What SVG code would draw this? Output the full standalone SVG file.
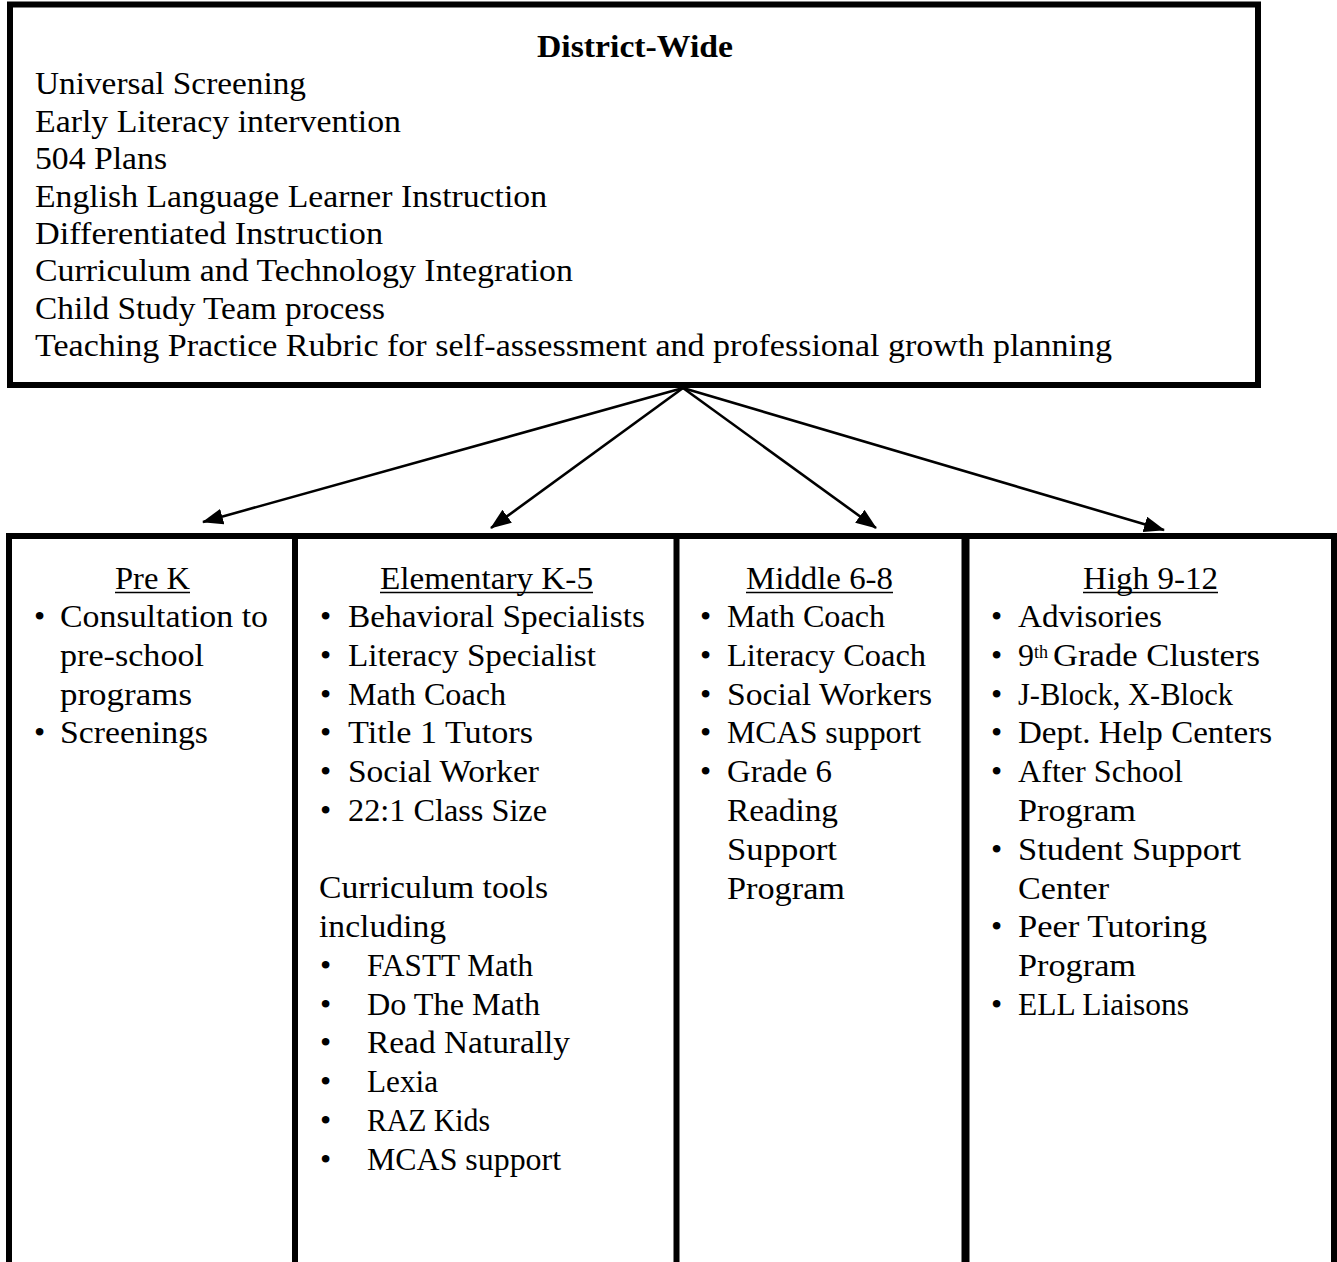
<svg xmlns="http://www.w3.org/2000/svg" width="1337" height="1262" viewBox="0 0 1337 1262">
<style>
text{font-family:"Liberation Serif","Times New Roman",serif;font-size:32px;fill:#000}
.b{font-weight:700}
.box{fill:#fff;stroke:#000;stroke-width:6}
.div{stroke:#000;stroke-width:6}
.ul{stroke:#000;stroke-width:1.6}
.arr{stroke:#000;stroke-width:2.6;fill:none}
</style>
<defs>
<marker id="ah" markerUnits="userSpaceOnUse" markerWidth="22" markerHeight="16" refX="20" refY="8" orient="auto">
<path d="M0,0 L21,8 L0,16 z" fill="#000"/>
</marker>
</defs>
<rect width="1337" height="1262" fill="#fff"/>

<g id="district-wide">
<rect class="box" x="10" y="4.5" width="1248" height="380.5"/>
<text class="b" x="635" y="57" text-anchor="middle" textLength="196" lengthAdjust="spacingAndGlyphs">District-Wide</text>
<text x="35" y="94" textLength="271" lengthAdjust="spacingAndGlyphs">Universal Screening</text>
<text x="35" y="131.5" textLength="366" lengthAdjust="spacingAndGlyphs">Early Literacy intervention</text>
<text x="35" y="169" textLength="132" lengthAdjust="spacingAndGlyphs">504 Plans</text>
<text x="35" y="206.5" textLength="512" lengthAdjust="spacingAndGlyphs">English Language Learner Instruction</text>
<text x="35" y="243.5" textLength="348" lengthAdjust="spacingAndGlyphs">Differentiated Instruction</text>
<text x="35" y="281" textLength="538" lengthAdjust="spacingAndGlyphs">Curriculum and Technology Integration</text>
<text x="35" y="318.5" textLength="350" lengthAdjust="spacingAndGlyphs">Child Study Team process</text>
<text x="35" y="356" textLength="1077" lengthAdjust="spacingAndGlyphs">Teaching Practice Rubric for self-assessment and professional growth planning</text>
</g>

<g id="connectors">
<line class="arr" x1="683" y1="388" x2="203" y2="522" marker-end="url(#ah)"/>
<line class="arr" x1="683" y1="388" x2="491" y2="528" marker-end="url(#ah)"/>
<line class="arr" x1="683" y1="388" x2="876" y2="528" marker-end="url(#ah)"/>
<line class="arr" x1="683" y1="388" x2="1164" y2="530" marker-end="url(#ah)"/>
</g>

<g id="levels-frame">
<path d="M9,1265 V536 H1334 V1265" fill="none" stroke="#000" stroke-width="6"/>
</g>

<g id="prek">
<text x="115" y="588.5" textLength="75" lengthAdjust="spacingAndGlyphs">Pre K</text>
<line class="ul" x1="115" y1="592.5" x2="190" y2="592.5"/>
<text x="34" y="627">•</text>
<text x="60" y="627" textLength="208" lengthAdjust="spacingAndGlyphs">Consultation to</text>
<text x="60" y="665.8" textLength="144" lengthAdjust="spacingAndGlyphs">pre-school</text>
<text x="60" y="704.6" textLength="132" lengthAdjust="spacingAndGlyphs">programs</text>
<text x="34" y="743.4">•</text>
<text x="60" y="743.4" textLength="148" lengthAdjust="spacingAndGlyphs">Screenings</text>
</g>

<g id="elementary">
<line class="div" x1="295" y1="536" x2="295" y2="1265"/>
<text x="380" y="588.5" textLength="213" lengthAdjust="spacingAndGlyphs">Elementary K-5</text>
<line class="ul" x1="380" y1="592.5" x2="593" y2="592.5"/>
<text x="320" y="627">•</text>
<text x="348" y="627" textLength="297" lengthAdjust="spacingAndGlyphs">Behavioral Specialists</text>
<text x="320" y="665.8">•</text>
<text x="348" y="665.8" textLength="248" lengthAdjust="spacingAndGlyphs">Literacy Specialist</text>
<text x="320" y="704.6">•</text>
<text x="348" y="704.6" textLength="158" lengthAdjust="spacingAndGlyphs">Math Coach</text>
<text x="320" y="743.4">•</text>
<text x="348" y="743.4" textLength="185" lengthAdjust="spacingAndGlyphs">Title 1 Tutors</text>
<text x="320" y="782.2">•</text>
<text x="348" y="782.2" textLength="191" lengthAdjust="spacingAndGlyphs">Social Worker</text>
<text x="320" y="821">•</text>
<text x="348" y="821" textLength="199" lengthAdjust="spacingAndGlyphs">22:1 Class Size</text>
<text x="319" y="898" textLength="229" lengthAdjust="spacingAndGlyphs">Curriculum tools</text>
<text x="319" y="937" textLength="127" lengthAdjust="spacingAndGlyphs">including</text>
<text x="320" y="975.8">•</text>
<text x="367" y="975.8" textLength="166" lengthAdjust="spacingAndGlyphs">FASTT Math</text>
<text x="320" y="1014.6">•</text>
<text x="367" y="1014.6" textLength="173" lengthAdjust="spacingAndGlyphs">Do The Math</text>
<text x="320" y="1053.4">•</text>
<text x="367" y="1053.4" textLength="203" lengthAdjust="spacingAndGlyphs">Read Naturally</text>
<text x="320" y="1092.2">•</text>
<text x="367" y="1092.2" textLength="71" lengthAdjust="spacingAndGlyphs">Lexia</text>
<text x="320" y="1131">•</text>
<text x="367" y="1131" textLength="123" lengthAdjust="spacingAndGlyphs">RAZ Kids</text>
<text x="320" y="1169.8">•</text>
<text x="367" y="1169.8" textLength="194" lengthAdjust="spacingAndGlyphs">MCAS support</text>
</g>

<g id="middle">
<line class="div" x1="676.5" y1="536" x2="676.5" y2="1265"/>
<text x="746" y="588.5" textLength="147" lengthAdjust="spacingAndGlyphs">Middle 6-8</text>
<line class="ul" x1="746" y1="592.5" x2="893" y2="592.5"/>
<text x="700" y="627">•</text>
<text x="727" y="627" textLength="158" lengthAdjust="spacingAndGlyphs">Math Coach</text>
<text x="700" y="665.8">•</text>
<text x="727" y="665.8" textLength="199" lengthAdjust="spacingAndGlyphs">Literacy Coach</text>
<text x="700" y="704.6">•</text>
<text x="727" y="704.6" textLength="205" lengthAdjust="spacingAndGlyphs">Social Workers</text>
<text x="700" y="743.4">•</text>
<text x="727" y="743.4" textLength="194" lengthAdjust="spacingAndGlyphs">MCAS support</text>
<text x="700" y="782.2">•</text>
<text x="727" y="782.2" textLength="105" lengthAdjust="spacingAndGlyphs">Grade 6</text>
<text x="727" y="821" textLength="111" lengthAdjust="spacingAndGlyphs">Reading</text>
<text x="727" y="859.8" textLength="110" lengthAdjust="spacingAndGlyphs">Support</text>
<text x="727" y="898.6" textLength="118" lengthAdjust="spacingAndGlyphs">Program</text>
</g>

<g id="high">
<line x1="965.5" y1="536" x2="965.5" y2="1265" stroke="#000" stroke-width="8"/>
<text x="1083" y="588.5" textLength="135" lengthAdjust="spacingAndGlyphs">High 9-12</text>
<line class="ul" x1="1083" y1="592.5" x2="1218" y2="592.5"/>
<text x="991" y="627">•</text>
<text x="1018" y="627" textLength="144" lengthAdjust="spacingAndGlyphs">Advisories</text>
<text x="991" y="665.8">•</text>
<text x="1018" y="665.8">9<tspan font-size="18" dy="-8">th</tspan></text>
<text x="1053" y="665.8" textLength="207" lengthAdjust="spacingAndGlyphs">Grade Clusters</text>
<text x="991" y="704.6">•</text>
<text x="1018" y="704.6" textLength="215" lengthAdjust="spacingAndGlyphs">J-Block, X-Block</text>
<text x="991" y="743.4">•</text>
<text x="1018" y="743.4" textLength="254" lengthAdjust="spacingAndGlyphs">Dept. Help Centers</text>
<text x="991" y="782.2">•</text>
<text x="1018" y="782.2" textLength="165" lengthAdjust="spacingAndGlyphs">After School</text>
<text x="1018" y="821" textLength="118" lengthAdjust="spacingAndGlyphs">Program</text>
<text x="991" y="859.8">•</text>
<text x="1018" y="859.8" textLength="223" lengthAdjust="spacingAndGlyphs">Student Support</text>
<text x="1018" y="898.6" textLength="91" lengthAdjust="spacingAndGlyphs">Center</text>
<text x="991" y="937.4">•</text>
<text x="1018" y="937.4" textLength="189" lengthAdjust="spacingAndGlyphs">Peer Tutoring</text>
<text x="1018" y="976.2" textLength="118" lengthAdjust="spacingAndGlyphs">Program</text>
<text x="991" y="1015">•</text>
<text x="1018" y="1015" textLength="171" lengthAdjust="spacingAndGlyphs">ELL Liaisons</text>
</g>
</svg>
